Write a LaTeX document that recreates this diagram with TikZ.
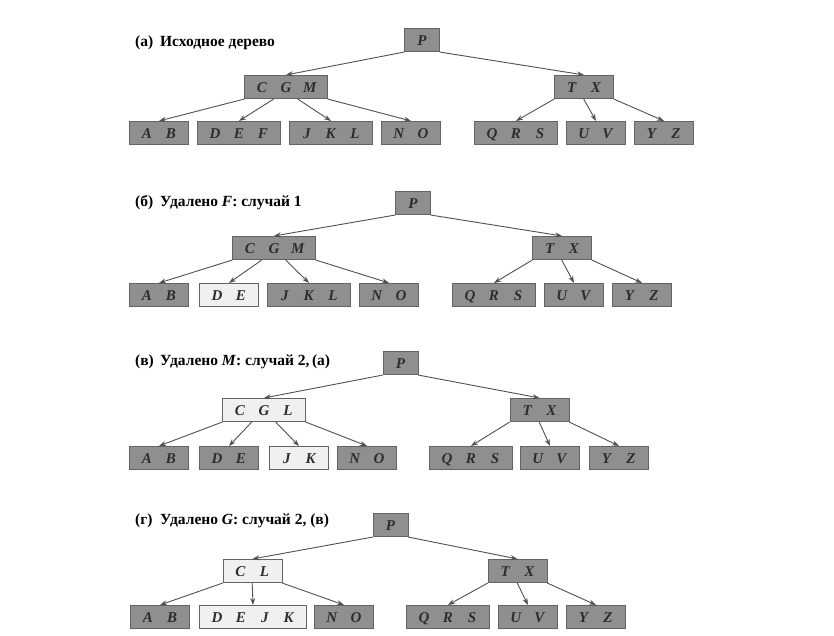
\documentclass[tikz,border=0pt]{standalone}
\usepackage{fontspec}
\setmainfont{Liberation Serif}
\usetikzlibrary{arrows.meta}
\definecolor{keyfill}{RGB}{143,143,143}
\definecolor{keyline}{RGB}{100,100,100}
\definecolor{keytext}{RGB}{45,45,45}
\definecolor{lightfill}{RGB}{240,240,240}
\definecolor{ptrline}{RGB}{80,80,80}
\newcommand\bkey[1]{\makebox[24pt]{\textit{#1}}}
\newcommand\tag[1]{\makebox[25pt][l]{#1}}
\begin{document}
\begin{tikzpicture}[x=1pt,y=-1pt]
\tikzset{bnode/.style={draw=keyline, fill=keyfill, text=keytext, line width=0.6pt,
  inner xsep=5.5pt, inner ysep=0pt, minimum height=23.5pt,
  text height=10pt, text depth=0pt, font=\fontsize{15}{15}\selectfont\bfseries}}
\tikzset{bnodelight/.style={bnode, fill=lightfill}}
\tikzset{ptr/.style={draw=ptrline, line width=0.9pt, -{Stealth[length=7pt,width=5pt]}}}
\tikzset{caption/.style={anchor=west, inner sep=0pt, font=\fontsize{15.5}{16}\selectfont\bfseries}}
\useasboundingbox (0,0) rectangle (834,635);

% (a)
\node[caption] (a-lbl) at (135,43) {\tag{(а)}Исходное дерево};
\node[bnode] (a-p) at (422,40) {\bkey{P}};
\node[bnode] (a-cgm) at (286,87) {\bkey{C}\bkey{G}\bkey{M}};
\node[bnode] (a-tx) at (584,87) {\bkey{T}\bkey{X}};
\node[bnode] (a-ab) at (159,133) {\bkey{A}\bkey{B}};
\node[bnode] (a-def) at (239,133) {\bkey{D}\bkey{E}\bkey{F}};
\node[bnode] (a-jkl) at (331,133) {\bkey{J}\bkey{K}\bkey{L}};
\node[bnode] (a-no) at (411,133) {\bkey{N}\bkey{O}};
\node[bnode] (a-qrs) at (516,133) {\bkey{Q}\bkey{R}\bkey{S}};
\node[bnode] (a-uv) at (596,133) {\bkey{U}\bkey{V}};
\node[bnode] (a-yz) at (664,133) {\bkey{Y}\bkey{Z}};
\draw[ptr] (a-p.south west) -- (a-cgm.north);
\draw[ptr] (a-p.south east) -- (a-tx.north);
\draw[ptr] (a-cgm.south west) -- (a-ab.north);
\draw[ptr] ([xshift=29.5pt]a-cgm.south west) -- (a-def.north);
\draw[ptr] ([xshift=53.5pt]a-cgm.south west) -- (a-jkl.north);
\draw[ptr] (a-cgm.south east) -- (a-no.north);
\draw[ptr] (a-tx.south west) -- (a-qrs.north);
\draw[ptr] ([xshift=29.5pt]a-tx.south west) -- (a-uv.north);
\draw[ptr] (a-tx.south east) -- (a-yz.north);

% (b)
\node[caption] (b-lbl) at (135,203) {\tag{(б)}Удалено \textit{F}: случай 1};
\node[bnode] (b-p) at (413,203) {\bkey{P}};
\node[bnode] (b-cgm) at (274,248) {\bkey{C}\bkey{G}\bkey{M}};
\node[bnode] (b-tx) at (562,248) {\bkey{T}\bkey{X}};
\node[bnode] (b-ab) at (159,295) {\bkey{A}\bkey{B}};
\node[bnodelight] (b-de) at (229,295) {\bkey{D}\bkey{E}};
\node[bnode] (b-jkl) at (309,295) {\bkey{J}\bkey{K}\bkey{L}};
\node[bnode] (b-no) at (389,295) {\bkey{N}\bkey{O}};
\node[bnode] (b-qrs) at (494,295) {\bkey{Q}\bkey{R}\bkey{S}};
\node[bnode] (b-uv) at (574,295) {\bkey{U}\bkey{V}};
\node[bnode] (b-yz) at (642,295) {\bkey{Y}\bkey{Z}};
\draw[ptr] (b-p.south west) -- (b-cgm.north);
\draw[ptr] (b-p.south east) -- (b-tx.north);
\draw[ptr] (b-cgm.south west) -- (b-ab.north);
\draw[ptr] ([xshift=29.5pt]b-cgm.south west) -- (b-de.north);
\draw[ptr] ([xshift=53.5pt]b-cgm.south west) -- (b-jkl.north);
\draw[ptr] (b-cgm.south east) -- (b-no.north);
\draw[ptr] (b-tx.south west) -- (b-qrs.north);
\draw[ptr] ([xshift=29.5pt]b-tx.south west) -- (b-uv.north);
\draw[ptr] (b-tx.south east) -- (b-yz.north);

% (c)
\node[caption] (c-lbl) at (135,362) {\tag{(в)}Удалено \textit{M}: случай 2,\,(а)};
\node[bnode] (c-p) at (400.5,363) {\bkey{P}};
\node[bnodelight] (c-cgl) at (264,410) {\bkey{C}\bkey{G}\bkey{L}};
\node[bnode] (c-tx) at (539.5,410) {\bkey{T}\bkey{X}};
\node[bnode] (c-ab) at (159,458) {\bkey{A}\bkey{B}};
\node[bnode] (c-de) at (229,458) {\bkey{D}\bkey{E}};
\node[bnodelight] (c-jk) at (299,458) {\bkey{J}\bkey{K}};
\node[bnode] (c-no) at (367,458) {\bkey{N}\bkey{O}};
\node[bnode] (c-qrs) at (471,458) {\bkey{Q}\bkey{R}\bkey{S}};
\node[bnode] (c-uv) at (550,458) {\bkey{U}\bkey{V}};
\node[bnode] (c-yz) at (619,458) {\bkey{Y}\bkey{Z}};
\draw[ptr] (c-p.south west) -- (c-cgl.north);
\draw[ptr] (c-p.south east) -- (c-tx.north);
\draw[ptr] (c-cgl.south west) -- (c-ab.north);
\draw[ptr] ([xshift=29.5pt]c-cgl.south west) -- (c-de.north);
\draw[ptr] ([xshift=53.5pt]c-cgl.south west) -- (c-jk.north);
\draw[ptr] (c-cgl.south east) -- (c-no.north);
\draw[ptr] (c-tx.south west) -- (c-qrs.north);
\draw[ptr] ([xshift=29.5pt]c-tx.south west) -- (c-uv.north);
\draw[ptr] (c-tx.south east) -- (c-yz.north);

% (d)
\node[caption] (d-lbl) at (135,521) {\tag{(г)}Удалено \textit{G}: случай 2, (в)};
\node[bnode] (d-p) at (390.5,525) {\bkey{P}};
\node[bnodelight] (d-cl) at (252.5,571) {\bkey{C}\bkey{L}};
\node[bnode] (d-tx) at (517.5,571) {\bkey{T}\bkey{X}};
\node[bnode] (d-ab) at (160,617) {\bkey{A}\bkey{B}};
\node[bnodelight] (d-dejk) at (253,617) {\bkey{D}\bkey{E}\bkey{J}\bkey{K}};
\node[bnode] (d-no) at (344,617) {\bkey{N}\bkey{O}};
\node[bnode] (d-qrs) at (448,617) {\bkey{Q}\bkey{R}\bkey{S}};
\node[bnode] (d-uv) at (528,617) {\bkey{U}\bkey{V}};
\node[bnode] (d-yz) at (596,617) {\bkey{Y}\bkey{Z}};
\draw[ptr] (d-p.south west) -- (d-cl.north);
\draw[ptr] (d-p.south east) -- (d-tx.north);
\draw[ptr] (d-cl.south west) -- (d-ab.north);
\draw[ptr] ([xshift=29.5pt]d-cl.south west) -- (d-dejk.north);
\draw[ptr] (d-cl.south east) -- (d-no.north);
\draw[ptr] (d-tx.south west) -- (d-qrs.north);
\draw[ptr] ([xshift=29.5pt]d-tx.south west) -- (d-uv.north);
\draw[ptr] (d-tx.south east) -- (d-yz.north);
\end{tikzpicture}
\end{document}
